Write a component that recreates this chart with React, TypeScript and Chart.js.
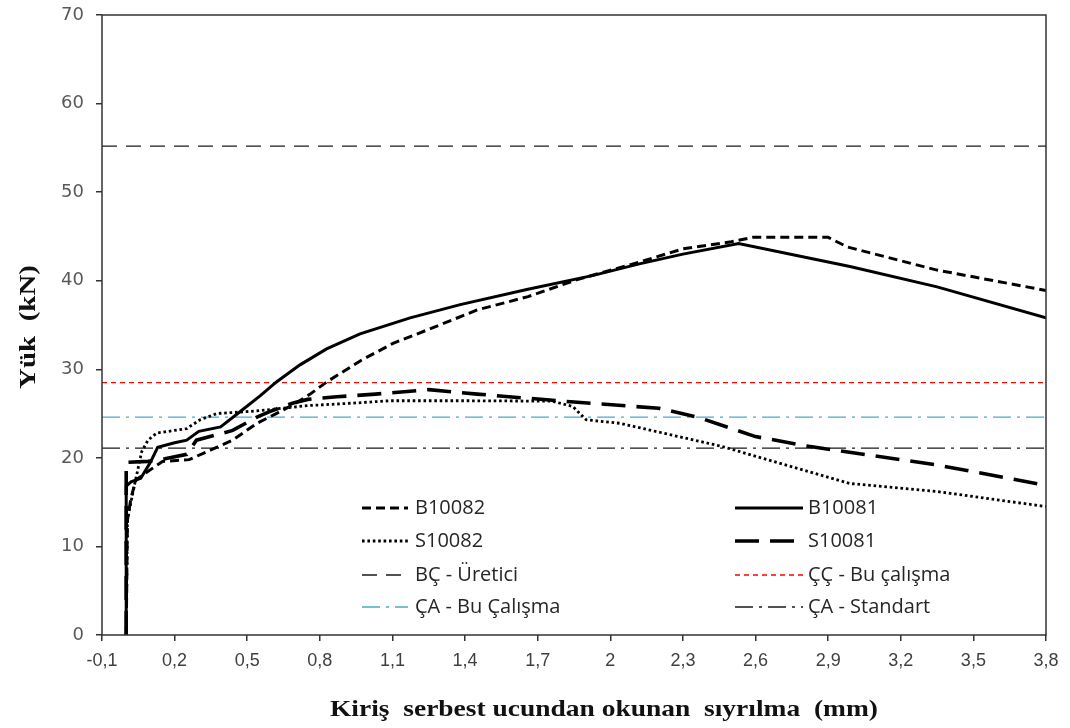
import { useEffect, useRef } from 'react';
import { Chart, registerables } from 'chart.js';

Chart.register(...registerables);

// ---------- axis ticks ----------
const xMin = -0.1;
const xMax = 3.8;
const xTickValues = [-0.1, 0.2, 0.5, 0.8, 1.1, 1.4, 1.7, 2.0, 2.3, 2.6, 2.9, 3.2, 3.5, 3.8];
const xTickLabels = ['-0,1', '0,2', '0,5', '0,8', '1,1', '1,4', '1,7', '2', '2,3', '2,6', '2,9', '3,2', '3,5', '3,8'];
const yTickValues = [0, 10, 20, 30, 40, 50, 60, 70];

const xTitle = 'Kiriş  serbest ucundan okunan  sıyrılma  (mm)';
const yTitle = 'Yük  (kN)';

// ---------- test curves ----------
const xB10082 = [0, 0.005, 0.02, 0.04, 0.07, 0.15, 0.26, 0.35, 0.44, 0.54, 0.62, 0.69, 0.76, 0.83, 0.97, 1.1, 1.24, 1.45, 1.66, 1.86, 2.12, 2.3, 2.5, 2.59, 2.9, 2.98, 3.35, 3.8];
const yB10082 = [0, 13, 15.5, 17.5, 18.1, 19.6, 19.8, 20.9, 22.0, 23.9, 25.0, 26.0, 27.2, 28.6, 31.0, 32.9, 34.4, 36.7, 38.2, 40.1, 42.1, 43.6, 44.4, 44.9, 44.9, 43.8, 41.2, 38.9];

const xB10081 = [0, 0, 0.02, 0.06, 0.1, 0.13, 0.2, 0.25, 0.3, 0.39, 0.47, 0.553, 0.622, 0.718, 0.828, 0.966, 1.173, 1.38, 1.655, 1.93, 2.12, 2.3, 2.53, 2.99, 3.35, 3.8];
const yB10081 = [0, 16.8, 17.3, 17.7, 19.5, 21.2, 21.7, 22.0, 23.0, 23.5, 25.2, 27.0, 28.6, 30.5, 32.3, 34.0, 35.8, 37.3, 39.0, 40.6, 41.9, 43.0, 44.2, 41.6, 39.3, 35.8];

const xS10082 = [0, 0.005, 0.03, 0.064, 0.09, 0.126, 0.25, 0.305, 0.374, 0.54, 0.75, 0.95, 1.09, 1.38, 1.76, 1.845, 1.9, 2.04, 2.46, 2.99, 3.35, 3.8];
const yS10082 = [0, 13, 16.4, 20.7, 22.0, 22.8, 23.3, 24.3, 25.0, 25.3, 25.9, 26.2, 26.45, 26.45, 26.4, 25.8, 24.3, 23.9, 21.3, 17.1, 16.2, 14.5];

const xS10081 = [0, 0, 0.09, 0.16, 0.25, 0.29, 0.4, 0.44, 0.54, 0.59, 0.69, 0.75, 0.87, 1.03, 1.25, 1.45, 1.85, 2.2, 2.36, 2.6, 2.82, 3.35, 3.8];
const yS10081 = [0, 19.5, 19.6, 19.9, 20.4, 22.0, 22.8, 23.1, 24.6, 25.2, 26.2, 26.6, 26.9, 27.2, 27.7, 27.2, 26.3, 25.6, 24.6, 22.4, 21.3, 19.2, 16.9];

// ---------- reference levels ----------
const refLabels = ['BÇ - Üretici', 'ÇÇ - Bu çalışma', 'ÇA - Bu Çalışma', 'ÇA - Standart'];
const refValues = [55.2, 28.5, 24.6, 21.1];
const refColors = ['#1a1a1a', '#ff0000', '#4bacc6', '#1a1a1a'];

const toPts = (xs: number[], ys: number[]) => xs.map((x, i) => ({ x, y: ys[i] }));

const legendPlugin = {
  id: 'customLegend',
  afterDraw(chart: any) {
    const ctx = chart.ctx;
    const area = chart.chartArea;
    ctx.save();
    // frame
    ctx.strokeStyle = '#333';
    ctx.lineWidth = 1.5;
    ctx.setLineDash([]);
    ctx.strokeRect(area.left, area.top, area.right - area.left, area.bottom - area.top);

    // legend
    const order = [0, 1, 2, 3, 4, 5, 6, 7];
    const cols = [
      { l0: 362, l1: 408, t: 415 },
      { l0: 735, l1: 803, t: 808 },
    ];
    const rows = [508, 541, 575, 607];
    order.forEach((di, k) => {
      const ds = chart.data.datasets[di];
      const c = cols[k % 2];
      const y = rows[Math.floor(k / 2)];
      ctx.beginPath();
      ctx.strokeStyle = ds.borderColor;
      ctx.lineWidth = ds.borderWidth;
      ctx.setLineDash(ds.borderDash || []);
      ctx.moveTo(c.l0, y);
      ctx.lineTo(c.l1, y);
      ctx.stroke();
      ctx.setLineDash([]);
      ctx.fillStyle = '#262626';
      ctx.font = '20px "Open Sans"';
      ctx.textAlign = 'left';
      ctx.textBaseline = 'middle';
      ctx.fillText(ds.label, c.t, y);
    });

    // axis titles
    ctx.fillStyle = '#111';
    ctx.font = 'bold 24px "Liberation Serif"';
    ctx.textAlign = 'center';
    ctx.textBaseline = 'middle';
    const wx = ctx.measureText(xTitle).width;
    ctx.save();
    ctx.translate(604, 710);
    ctx.scale(548 / wx, 1);
    ctx.fillText(xTitle, 0, 0);
    ctx.restore();

    const wy = ctx.measureText(yTitle).width;
    ctx.save();
    ctx.translate(29, 327);
    ctx.rotate(-Math.PI / 2);
    ctx.scale(124 / wy, 1);
    ctx.fillText(yTitle, 0, 0);
    ctx.restore();

    ctx.restore();
  },
};

export default function App() {
  const ref = useRef<HTMLCanvasElement | null>(null);

  useEffect(() => {
    if (!ref.current) return;
    const curveBase = { pointRadius: 0, tension: 0, fill: false, borderColor: '#000', order: 0 };
    const refDatasets = refLabels.map((label, i) => ({
      label,
      data: [{ x: xMin, y: refValues[i] }, { x: xMax, y: refValues[i] }],
      borderColor: refColors[i],
      borderWidth: 1.3,
      borderDash: [[15, 9], [5, 4], [18, 6, 3, 6], [18, 6, 3, 6]][i],
      pointRadius: 0,
      fill: false,
      order: 1,
    }));
    const chart = new Chart(ref.current, {
      type: 'scatter',
      data: {
        datasets: [
          { ...curveBase, label: 'B10082', data: toPts(xB10082, yB10082), showLine: true, borderWidth: 3, borderDash: [9, 5] },
          { ...curveBase, label: 'B10081', data: toPts(xB10081, yB10081), showLine: true, borderWidth: 3, borderDash: [] },
          { ...curveBase, label: 'S10082', data: toPts(xS10082, yS10082), showLine: true, borderWidth: 2.8, borderDash: [2.6, 2.8] },
          { ...curveBase, label: 'S10081', data: toPts(xS10081, yS10081), showLine: true, borderWidth: 3.6, borderDash: [24, 11] },
          ...refDatasets.map((d) => ({ ...d, showLine: true })),
        ],
      },
      options: {
        responsive: false,
        animation: false,
        layout: { padding: { top: 15, right: 24, left: 0, bottom: 0 } },
        plugins: { legend: { display: false }, tooltip: { enabled: false } },
        scales: {
          x: {
            type: 'linear',
            min: xMin,
            max: xMax,
            afterBuildTicks: (scale: any) => {
              scale.ticks = xTickValues.map((v) => ({ value: v }));
            },
            afterFit: (scale: any) => {
              scale.height = 93;
              scale.paddingLeft = 0;
              scale.paddingRight = 0;
            },
            border: { display: false },
            grid: { drawOnChartArea: false, drawTicks: true, tickLength: 6, tickColor: '#333', lineWidth: 1.5 },
            ticks: {
              padding: 9,
              autoSkip: false,
              maxRotation: 0,
              color: '#404040',
              font: { family: '"Liberation Sans Narrow", "Liberation Sans"', size: 18 },
              callback: (v: any) => {
                const i = xTickValues.findIndex((t) => Math.abs(t - v) < 1e-6);
                return i >= 0 ? xTickLabels[i] : '';
              },
            },
          },
          y: {
            type: 'linear',
            min: 0,
            max: 70,
            afterBuildTicks: (scale: any) => {
              scale.ticks = yTickValues.map((v) => ({ value: v }));
            },
            afterFit: (scale: any) => {
              scale.width = 102;
              scale.paddingTop = 0;
              scale.paddingBottom = 0;
            },
            border: { display: false },
            grid: { drawOnChartArea: false, drawTicks: true, tickLength: 6, tickColor: '#333', lineWidth: 1.5 },
            ticks: {
              padding: 12,
              color: '#595959',
              font: { family: '"DejaVu Sans"', size: 18 },
            },
          },
        },
      },
      plugins: [legendPlugin],
    } as any);
    return () => chart.destroy();
  }, []);

  return (
    <div style={{ position: 'fixed', left: 0, top: 0, width: 1070, height: 728, background: '#fff' }}>
      <canvas ref={ref} width={1070} height={728} style={{ display: 'block' }} />
    </div>
  );
}
